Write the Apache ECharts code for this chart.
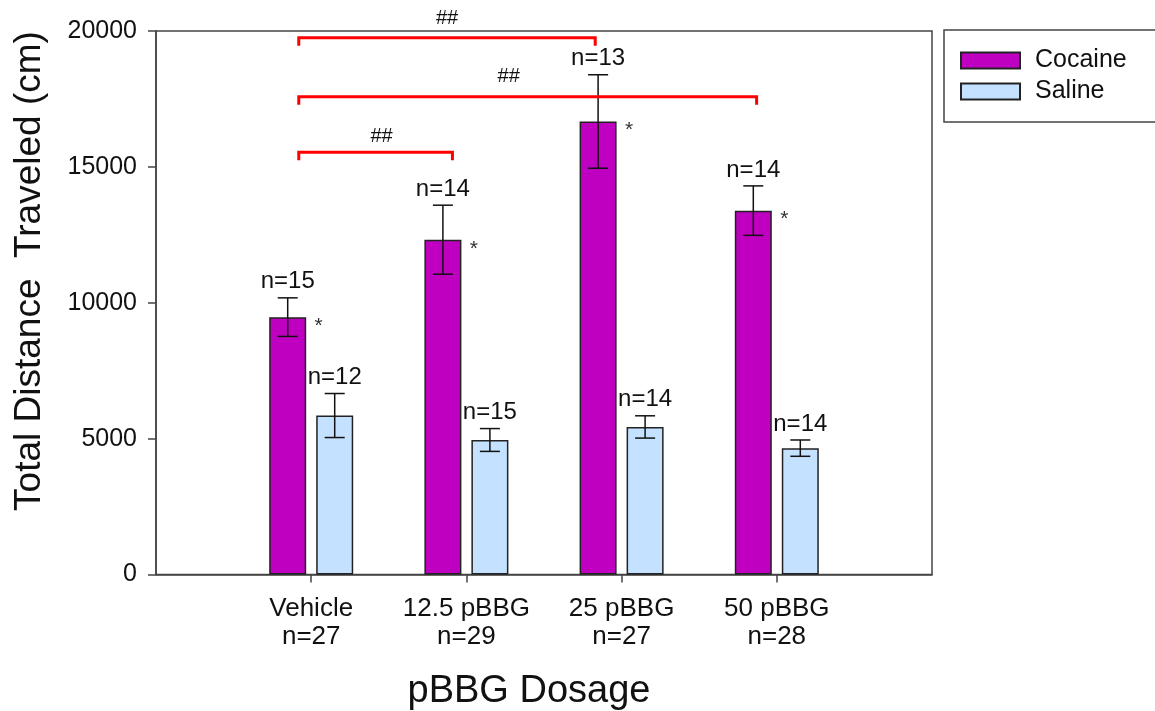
<!DOCTYPE html>
<html>
<head>
<meta charset="utf-8">
<script src="https://cdn.jsdelivr.net/npm/echarts@6/dist/echarts.min.js"></script>
<style>
  html, body { margin: 0; padding: 0; background: #fff; }
  #chart { width: 1155px; height: 711px; }
</style>
</head>
<body>
<div id="chart"></div>
<script>
// Dose groups along the x axis, with total animals per group
const groups = ['Vehicle', '12.5 pBBG', '25 pBBG', '50 pBBG'];
const groupN = [27, 29, 27, 28];

// Total distance traveled (cm): mean and SEM per group
const cocaineMean = [9470, 12320, 16670, 13390];
const cocaineSem  = [710, 1270, 1720, 910];
const cocaineN    = [15, 14, 13, 14];

const salineMean = [5850, 4950, 5430, 4650];
const salineSem  = [810, 420, 410, 300];
const salineN    = [12, 15, 14, 14];

// Y axis ticks
const yTicks = [0, 5000, 10000, 15000, 20000];

// Significance brackets (## vs. Vehicle); ends are category positions
const bracketFrom  = [0.92, 0.92, 0.92];
const bracketTo    = [2.83, 3.87, 1.91];
const bracketLevel = [19750, 17580, 15540];
const bracketMark  = ['##', '##', '##'];

const FONT = "'Liberation Sans', Arial, sans-serif";
const INK = '#111';
const AXIS = '#444';

// Category slots: empty pads at both ends so the groups sit at 1..4 on a 0..5 span
const cats = [''].concat(groups.map((g, i) => g + '\nn=' + groupN[i])).concat(['']);
const pad = v => [null].concat(v).concat([null]);

const errCocaine = cocaineMean.map((m, i) => [i + 1, m, cocaineSem[i], cocaineN[i]]);
const errSaline = salineMean.map((m, i) => [i + 1, m, salineSem[i], salineN[i]]);
const bracketRows = bracketFrom.map((f, i) => [f, bracketTo[i], bracketLevel[i], i]);

const BAR_W = 37, BAR_GAP = 10;
const HALF = (BAR_W + BAR_GAP) / 2;

function errorBars(offsetPx, withStar) {
  return function (params, api) {
    const idx = api.value(0), mean = api.value(1), sem = api.value(2), n = api.value(3);
    const hi = api.coord([idx, mean + sem]);
    const lo = api.coord([idx, mean - sem]);
    const top = api.coord([idx, mean]);
    const x = hi[0] + offsetPx;
    const ls = { stroke: INK, lineWidth: 1.5 };
    const kids = [
      { type: 'line', shape: { x1: x, y1: hi[1], x2: x, y2: lo[1] }, style: ls },
      { type: 'line', shape: { x1: x - 10, y1: hi[1], x2: x + 10, y2: hi[1] }, style: ls },
      { type: 'line', shape: { x1: x - 10, y1: lo[1], x2: x + 10, y2: lo[1] }, style: ls },
      { type: 'text', style: { text: 'n=' + n, x: x, y: hi[1] - 4, textAlign: 'center', textVerticalAlign: 'bottom',
          fontSize: 24, fontFamily: FONT, fill: INK } }
    ];
    if (withStar) {
      kids.push({ type: 'text', style: { text: '*', x: x + 31, y: top[1] + 9, textAlign: 'center', textVerticalAlign: 'middle',
          fontSize: 21, fontFamily: FONT, fill: '#333' } });
    }
    return { type: 'group', children: kids };
  };
}

function brackets(params, api) {
  const from = api.value(0), to = api.value(1), level = api.value(2);
  const k = api.value(3);
  const base = api.coord([0, level]);
  const band = api.size([1, 0])[0];
  const x1 = base[0] + from * band, x2 = base[0] + to * band, y = base[1];
  const drop = 8;
  const shift = [0, -19, 6][k] || 0;
  const lift = [5, 6, 2][k] || 0;
  return {
    type: 'group',
    children: [
      { type: 'polyline', shape: { points: [[x1, y + drop], [x1, y], [x2, y], [x2, y + drop]] },
        style: { stroke: '#ff0000', lineWidth: 3, fill: null } },
      { type: 'text', style: { text: bracketMark[k], x: (x1 + x2) / 2 + shift, y: y - 4 - lift,
          textAlign: 'center', textVerticalAlign: 'bottom', fontSize: 20, fontFamily: FONT, fill: INK } }
    ]
  };
}

const chart = echarts.init(document.getElementById('chart'), null, { renderer: 'canvas' });
chart.setOption({
  backgroundColor: '#fff',
  animation: false,
  textStyle: { fontFamily: FONT },
  grid: { left: 156, right: 223, top: 31, bottom: 136.5, show: true, borderColor: AXIS, borderWidth: 1.5, containLabel: false },
  legend: {
    orient: 'vertical', left: 960, top: 48, padding: 0,
    itemWidth: 59, itemHeight: 16, itemGap: 6, icon: 'rect',
    data: ['Cocaine', 'Saline'],
    textStyle: { fontSize: 25, color: INK, fontFamily: FONT, padding: [0, 0, 0, 10] }
  },
  xAxis: {
    type: 'category', data: cats, boundaryGap: false,
    axisLine: { lineStyle: { color: AXIS, width: 1.5 } },
    axisTick: { length: 8, interval: i => i >= 1 && i <= groups.length, lineStyle: { color: AXIS, width: 1.5 } },
    axisLabel: { interval: 0, fontSize: 26, lineHeight: 28, color: INK, margin: 20, fontFamily: FONT },
    splitLine: { show: false }
  },
  yAxis: {
    type: 'value', min: yTicks[0], max: yTicks[yTicks.length - 1], interval: yTicks[1] - yTicks[0],
    axisLine: { show: true, lineStyle: { color: AXIS, width: 1.5 } },
    axisTick: { show: true, length: 8, lineStyle: { color: AXIS, width: 1.5 } },
    axisLabel: { fontSize: 25, color: INK, margin: 19, fontFamily: FONT, formatter: v => String(v) },
    splitLine: { show: false }
  },
  graphic: [
    { type: 'rect', shape: { x: 944, y: 30, width: 220, height: 92 }, style: { fill: null, stroke: AXIS, lineWidth: 1.5 }, z: 10 },
    { type: 'text', x: 30, y: 271, rotation: Math.PI / 2,
      style: { text: 'Total Distance  Traveled (cm)', textAlign: 'center', textVerticalAlign: 'middle', fontSize: 37, fill: INK, fontFamily: FONT } },
    { type: 'text', x: 529, y: 692,
      style: { text: 'pBBG Dosage', textAlign: 'center', textVerticalAlign: 'middle', fontSize: 38, fill: INK, fontFamily: FONT } }
  ],
  series: [
    { name: 'Cocaine', type: 'bar', data: pad(cocaineMean), barWidth: BAR_W, barGap: (BAR_GAP / BAR_W * 100) + '%',
      itemStyle: { color: '#c000c0', borderColor: '#222', borderWidth: 1.5 } },
    { name: 'Saline', type: 'bar', data: pad(salineMean), barWidth: BAR_W,
      itemStyle: { color: '#c4e2ff', borderColor: '#222', borderWidth: 1.5 } },
    { type: 'custom', data: errCocaine, renderItem: errorBars(-HALF, true), z: 5, silent: true },
    { type: 'custom', data: errSaline, renderItem: errorBars(HALF, false), z: 5, silent: true },
    { type: 'custom', data: bracketRows, renderItem: brackets, z: 6, silent: true, clip: false }
  ]
});
</script>
</body>
</html>
